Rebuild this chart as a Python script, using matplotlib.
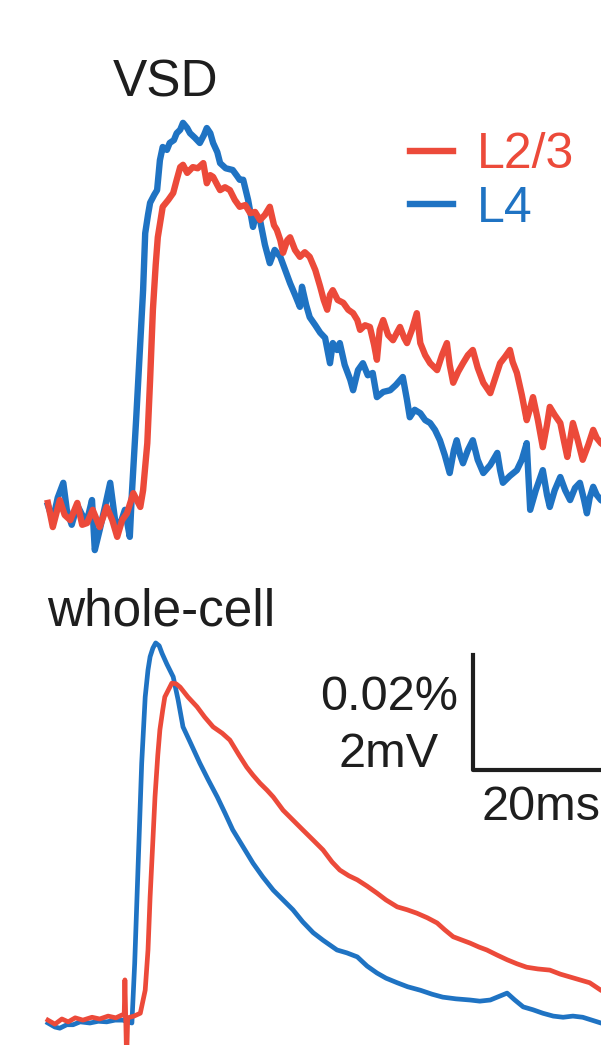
import matplotlib
matplotlib.use("Agg")
import matplotlib.pyplot as plt

# time in ms, VSD in dF/F x 1e-4 (2 units = 0.02%), whole-cell in mV
vsd_l4_t = [-0.3, 0.4, 1.1, 1.9, 2.4, 3.1, 3.9, 4.6, 5.3, 6.0,
            6.4, 7.1, 7.9, 8.6, 9.3, 10.0, 10.7, 11.4, 11.7, 12.3,
            12.9, 13.3, 13.6, 14.0, 14.3, 14.9, 15.3, 15.7, 16.1, 16.7,
            17.1, 17.7, 18.1, 18.6, 19.0, 19.6, 20.0, 20.7, 21.4, 22.0,
            22.4, 22.9, 23.3, 23.9, 24.3, 25.1, 26.1, 26.7, 27.1, 27.6,
            28.3, 29.0, 29.4, 30.0, 30.7, 31.4, 32.1, 32.9, 33.6, 34.3,
            35.0, 35.7, 36.0, 36.6, 37.1, 37.9, 38.6, 39.3, 40.0, 40.4,
            41.0, 41.4, 42.1, 42.9, 43.3, 44.0, 44.7, 45.4, 46.1, 46.7,
            47.6, 48.6, 49.4, 50.4, 51.0, 51.4, 52.1, 52.9, 53.6, 54.3,
            55.0, 55.7, 56.4, 57.1, 57.7, 58.1, 58.6, 59.0, 59.7, 60.4,
            61.1, 61.9, 62.9, 63.9, 64.3, 64.7, 65.7, 66.7, 67.4, 68.1,
            68.6, 69.4, 70.4, 71.0, 71.4, 72.1, 72.9, 73.6, 74.3, 75.0,
            75.7, 76.3, 76.7, 77.1, 77.6, 78.1, 78.7, 80.0]
vsd_l4 = [0.17, -0.09, 0.30, 0.56, 0.09, -0.17, 0.17, 0.00, -0.09, 0.26,
          -0.61, -0.26, 0.17, 0.56, -0.09, -0.17, 0.09, -0.38, 0.38, 1.65,
          2.99, 3.91, 4.90, 5.22, 5.43, 5.57, 5.65, 6.17, 6.40, 6.35,
          6.47, 6.52, 6.64, 6.70, 6.82, 6.73, 6.64, 6.56, 6.47, 6.61,
          6.73, 6.64, 6.47, 6.31, 6.12, 6.03, 6.00, 5.90, 5.83, 5.83,
          5.48, 5.01, 5.22, 5.13, 4.70, 4.38, 4.61, 4.49, 4.26, 4.03,
          3.83, 3.62, 3.97, 3.65, 3.44, 3.30, 3.17, 3.08, 2.64, 2.99,
          2.87, 2.99, 2.61, 2.35, 2.17, 2.52, 2.64, 2.43, 2.47, 2.05,
          2.14, 2.17, 2.26, 2.40, 2.00, 1.70, 1.83, 1.77, 1.65, 1.60,
          1.48, 1.30, 1.04, 0.73, 1.13, 1.30, 1.04, 0.90, 1.13, 1.30,
          0.96, 0.73, 0.87, 1.08, 0.78, 0.56, 0.68, 0.78, 0.96, 1.25,
          0.09, 0.43, 0.78, 0.35, 0.14, 0.43, 0.66, 0.43, 0.26, 0.47,
          0.56, 0.26, 0.03, 0.30, 0.49, 0.35, 0.26, 0.17]

vsd_l23_t = [-0.3, 0.4, 1.4, 2.1, 2.9, 3.9, 4.6, 5.3, 6.1, 7.1,
             8.1, 8.9, 9.6, 10.3, 11.0, 11.9, 12.9, 13.3, 13.9, 14.3,
             14.7, 15.1, 15.4, 16.1, 16.9, 17.6, 18.1, 18.6, 19.0, 19.6,
             20.0, 20.4, 21.1, 21.9, 22.4, 22.9, 23.3, 23.9, 24.3, 25.0,
             25.7, 26.4, 27.1, 27.9, 28.6, 29.3, 30.0, 30.7, 31.4, 32.0,
             32.4, 32.9, 33.3, 33.9, 34.3, 35.0, 35.7, 36.4, 37.1, 37.9,
             38.6, 39.1, 39.6, 40.0, 40.4, 41.1, 41.9, 42.6, 43.3, 43.9,
             44.3, 45.0, 45.7, 46.3, 46.7, 47.1, 47.6, 48.3, 49.0, 49.6,
             50.0, 50.6, 51.0, 51.7, 52.4, 52.9, 53.6, 54.3, 55.3, 56.0,
             56.7, 57.1, 57.6, 58.3, 59.0, 59.7, 60.4, 61.1, 61.9, 62.9,
             63.6, 64.3, 65.0, 65.7, 66.1, 66.7, 67.4, 68.1, 68.6, 69.0,
             69.7, 70.4, 71.0, 71.4, 72.1, 72.9, 73.4, 73.9, 74.3, 74.7,
             75.4, 76.1, 76.9, 77.6, 78.1, 78.7, 80.0]
vsd_l23 = [0.21, -0.21, 0.26, 0.00, -0.09, 0.21, -0.17, -0.14, 0.09, -0.21,
           0.14, -0.09, -0.38, -0.09, 0.03, 0.38, 0.14, 0.43, 1.25, 2.35,
           3.57, 4.35, 4.83, 5.36, 5.48, 5.60, 5.83, 6.05, 6.09, 5.95,
           6.00, 6.05, 6.03, 6.12, 5.77, 5.91, 5.88, 5.74, 5.65, 5.70,
           5.65, 5.48, 5.36, 5.39, 5.25, 5.27, 5.13, 5.22, 5.36, 5.04,
           4.96, 4.78, 4.56, 4.78, 4.83, 4.61, 4.49, 4.57, 4.49, 4.26,
           3.97, 3.74, 3.57, 3.83, 3.91, 3.74, 3.69, 3.57, 3.51, 3.39,
           3.22, 3.30, 3.27, 2.96, 2.70, 3.22, 3.39, 3.13, 3.04, 3.18,
           3.27, 3.08, 2.99, 3.22, 3.51, 2.99, 2.78, 2.64, 2.52, 2.78,
           2.99, 2.61, 2.30, 2.49, 2.64, 2.78, 2.87, 2.56, 2.30, 2.12,
           2.38, 2.64, 2.75, 2.87, 2.66, 2.47, 2.09, 1.65, 1.86, 2.05,
           1.65, 1.18, 1.57, 1.88, 1.74, 1.60, 1.30, 1.01, 1.30, 1.60,
           1.30, 0.96, 1.22, 1.48, 1.34, 1.25, 1.13]

wc_l4_t = [-0.3, 0.7, 1.4, 2.4, 3.3, 4.3, 5.7, 6.9, 8.1, 9.3,
           10.4, 11.1, 11.7, 12.1, 12.6, 13.1, 13.6, 14.0, 14.3, 14.7,
           15.1, 15.6, 16.0, 16.7, 17.6, 18.3, 19.0, 20.0, 21.4, 22.6,
           23.9, 25.0, 26.1, 27.6, 29.0, 30.4, 31.9, 33.3, 34.7, 36.1,
           37.6, 39.0, 41.0, 42.4, 43.9, 45.3, 46.7, 48.0, 49.6, 51.1,
           52.9, 54.6, 56.1, 58.0, 60.0, 61.4, 62.9, 64.3, 65.3, 66.4,
           67.6, 69.0, 70.4, 71.9, 73.3, 74.7, 76.1, 77.4, 78.7, 80.0]
wc_l4 = [0.00, -0.07, -0.09, -0.03, -0.03, 0.02, 0.00, 0.03, 0.02, 0.05,
         0.05, 0.02, 0.00, 1.04, 2.78, 4.52, 5.67, 6.14, 6.37, 6.52,
         6.61, 6.56, 6.43, 6.24, 6.02, 5.62, 5.15, 4.89, 4.52, 4.23,
         3.93, 3.65, 3.36, 3.06, 2.78, 2.54, 2.31, 2.14, 1.97, 1.76,
         1.57, 1.44, 1.27, 1.22, 1.15, 0.99, 0.87, 0.78, 0.70, 0.63,
         0.57, 0.50, 0.45, 0.42, 0.40, 0.38, 0.40, 0.47, 0.52, 0.40,
         0.28, 0.23, 0.17, 0.12, 0.10, 0.12, 0.10, 0.05, 0.00, -0.02]

wc_l23_t = [-0.3, 0.7, 1.7, 2.6, 3.6, 4.7, 6.0, 7.1, 8.3, 9.4,
            10.3, 10.6, 10.7, 10.9, 11.0, 11.1, 12.0, 12.9, 13.6, 14.0,
            14.3, 14.7, 15.0, 15.4, 15.7, 16.1, 16.4, 16.9, 17.4, 18.0,
            18.6, 19.7, 21.0, 22.1, 23.3, 24.6, 25.7, 27.0, 28.1, 29.0,
            30.0, 31.0, 31.9, 33.3, 34.7, 36.1, 37.6, 39.0, 40.3, 41.4,
            42.7, 43.9, 45.3, 46.7, 48.0, 49.6, 51.0, 52.4, 53.9, 55.3,
            56.4, 57.6, 58.9, 60.0, 61.3, 62.4, 63.9, 65.3, 66.7, 68.1,
            69.7, 71.4, 72.9, 74.3, 75.7, 77.1, 78.7, 80.0]
wc_l23 = [0.05, -0.02, 0.07, 0.02, 0.09, 0.05, 0.10, 0.07, 0.12, 0.09,
          0.14, 0.14, 0.75, -0.38, -0.38, 0.09, 0.12, 0.17, 0.57, 1.27,
          2.19, 3.18, 3.93, 4.66, 5.10, 5.44, 5.67, 5.79, 5.91, 5.90,
          5.84, 5.67, 5.50, 5.32, 5.15, 5.04, 4.92, 4.66, 4.45, 4.31,
          4.17, 4.05, 3.93, 3.70, 3.53, 3.36, 3.18, 3.01, 2.80, 2.66,
          2.56, 2.49, 2.38, 2.26, 2.14, 2.02, 1.97, 1.91, 1.83, 1.74,
          1.62, 1.50, 1.44, 1.39, 1.32, 1.27, 1.18, 1.10, 1.03, 0.97,
          0.94, 0.92, 0.85, 0.80, 0.75, 0.70, 0.57, 0.49]

labels = ["L2/3", "L4"]
scale_ms = 20
scale_mv = 2

red = "#ec4a3a"
blue = "#1f73c3"
ink = "#1e1e1e"
font = "Liberation Sans"

fig = plt.figure(figsize=(6.01, 10.45), dpi=100)
ax1 = fig.add_axes([0, 1 - 570 / 1045, 1, 530 / 1045])
ax2 = fig.add_axes([0, 0, 1, 465 / 1045])

xlim = (-50 / 7, 551 / 7)
ax1.set_xlim(*xlim)
ax2.set_xlim(*xlim)
ax1.set_ylim(-55 / 57.5, 475 / 57.5)
ax2.set_ylim(-22 / 57.5, 443 / 57.5)
for ax in (ax1, ax2):
    ax.axis("off")

ax1.plot(vsd_l4_t, vsd_l4, color=blue, lw=4.6, solid_joinstyle="round", label=labels[1])
ax1.plot(vsd_l23_t, vsd_l23, color=red, lw=4.6, solid_joinstyle="round", label=labels[0])
ax2.plot(wc_l4_t, wc_l4, color=blue, lw=3.4)
ax2.plot(wc_l23_t, wc_l23, color=red, lw=3.4)

h, l = ax1.get_legend_handles_labels()
leg = ax1.legend(h[::-1], l[::-1], loc="upper left", frameon=False,
                 bbox_to_anchor=(410 / 601, 1 - 132 / 1045), bbox_transform=fig.transFigure,
                 borderpad=0, borderaxespad=0, handlelength=0.86, handletextpad=0.48,
                 labelspacing=0.15, labelcolor="linecolor",
                 prop={"family": font, "size": 36})

ax1.text(8.9, 7.27, "VSD", fontsize=37, family=font, color=ink, ha="left", va="baseline")
ax2.text(-0.43, 6.92, "whole-cell", fontsize=37, family=font, color=ink, ha="left", va="baseline")

# scale bar
x0, y0 = 60.43, 4.40
ax2.plot([x0, x0, x0 + scale_ms], [y0 + scale_mv, y0, y0], color=ink, lw=3.0, clip_on=False)
ax2.text(48.4, 5.44, "0.02%", fontsize=35, family=font, color=ink, ha="center", va="baseline")
ax2.text(48.4, 4.45, f"{scale_mv}mV", fontsize=35, family=font, color=ink, ha="center", va="baseline")
ax2.text(61.7, 3.53, f"{scale_ms}ms", fontsize=35, family=font, color=ink, ha="left", va="baseline")

fig.savefig("out.png", dpi=100)
